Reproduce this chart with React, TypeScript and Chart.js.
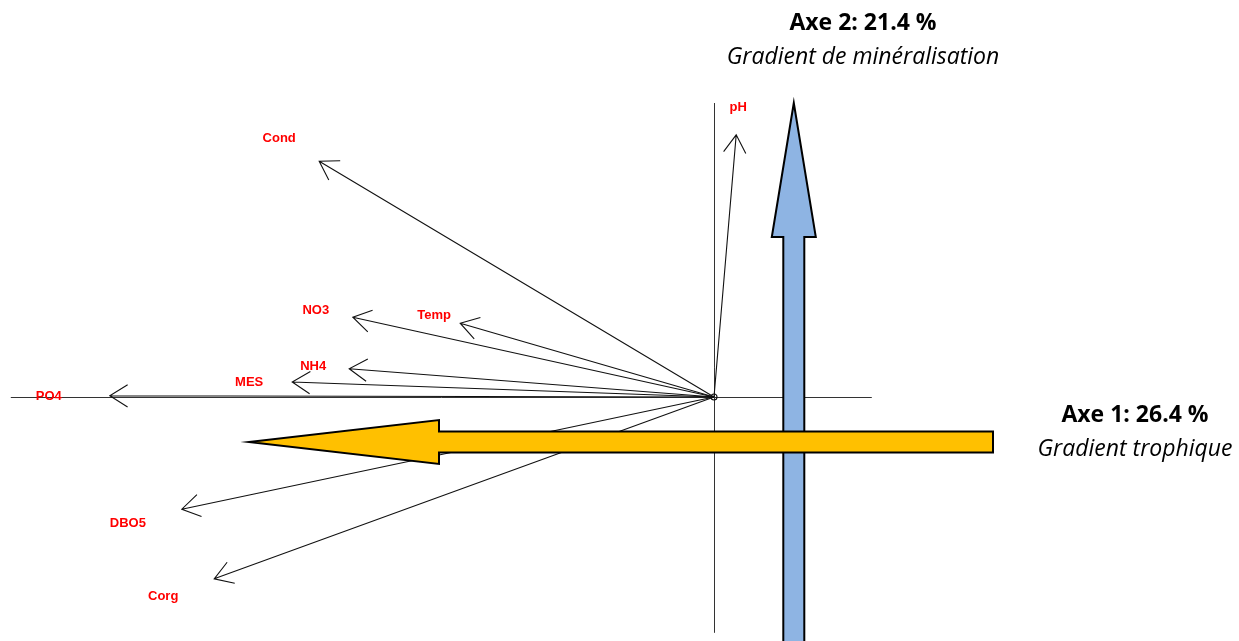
import React, { useEffect, useRef } from "react";
import { Chart, registerables } from "chart.js";

Chart.register(...registerables);

// PCA correlation coordinates (axis 1, axis 2)
const variables = ["pH", "Cond", "NO3", "Temp", "NH4", "MES", "PO4", "DBO5", "Corg"];
const axis1 = [0.037, -0.658, -0.602, -0.423, -0.608, -0.703, -1.007, -0.887, -0.833];
const axis2 = [0.437, 0.393, 0.133, 0.123, 0.047, 0.025, 0.002, -0.187, -0.303];

// axis line extents
const hAxis = [-1.172, 0.263];
const vAxis = [-0.393, 0.49];

// big interpretation arrows
const trophicArrow = { from: [0.465, -0.075], to: [-0.775, -0.075] };
const mineralArrow = { from: [0.133, -0.42], to: [0.133, 0.49] };

const axisTitles = [
  { bold: "Axe 2: 21.4 %", italic: "Gradient de minéralisation" },
  { bold: "Axe 1: 26.4 %", italic: "Gradient trophique" },
];

// label offsets in pixels from each arrow tip (style)
const labelOffsets: [number, number][] = [
  [2, -27], [-40, -23], [-37, -7], [-26, -8], [-36, -2], [-43, 0], [-61, 1], [-54, 14], [-51, 18],
];

const drawPlugin = {
  id: "pcaDraw",
  afterDatasetsDraw(chart: any) {
    const ctx: CanvasRenderingContext2D = chart.ctx;
    const xs = chart.scales.x;
    const ys = chart.scales.y;
    const px = (v: number) => xs.getPixelForValue(v);
    const py = (v: number) => ys.getPixelForValue(v);
    const ox = px(0);
    const oy = py(0);
    ctx.save();

    // axes
    ctx.strokeStyle = "#333";
    ctx.lineWidth = 1;
    ctx.beginPath();
    ctx.moveTo(px(hAxis[0]), oy + 0.5);
    ctx.lineTo(px(hAxis[1]), oy + 0.5);
    ctx.moveTo(ox + 0.5, py(vAxis[1]));
    ctx.lineTo(ox + 0.5, py(vAxis[0]));
    ctx.stroke();

    // vectors
    ctx.strokeStyle = "#111";
    ctx.lineWidth = 1.1;
    for (let i = 0; i < variables.length; i++) {
      const tx = px(axis1[i]);
      const ty = py(axis2[i]);
      ctx.beginPath();
      ctx.moveTo(ox, oy);
      ctx.lineTo(tx, ty);
      const ang = Math.atan2(ty - oy, tx - ox);
      const hl = 21;
      const ha = (32 * Math.PI) / 180;
      ctx.moveTo(tx - hl * Math.cos(ang - ha), ty - hl * Math.sin(ang - ha));
      ctx.lineTo(tx, ty);
      ctx.lineTo(tx - hl * Math.cos(ang + ha), ty - hl * Math.sin(ang + ha));
      ctx.stroke();
    }
    // origin circle
    ctx.beginPath();
    ctx.arc(ox, oy, 3, 0, Math.PI * 2);
    ctx.stroke();

    // labels
    ctx.fillStyle = "#ff0000";
    ctx.font = "bold 13px 'Liberation Sans', Arial, sans-serif";
    ctx.textAlign = "center";
    ctx.textBaseline = "middle";
    for (let i = 0; i < variables.length; i++) {
      const tx = px(axis1[i]);
      const ty = py(axis2[i]);
      ctx.fillText(variables[i], tx + labelOffsets[i][0], ty + labelOffsets[i][1]);
    }

    // big arrows
    const bigArrow = (x1: number, y1: number, x2: number, y2: number, fill: string) => {
      const len = Math.hypot(x2 - x1, y2 - y1);
      const ang = Math.atan2(y2 - y1, x2 - x1);
      const sw = 10.5;
      const hw = 22;
      const hlen = len > 600 ? 190 : 134;
      ctx.save();
      ctx.translate(x1, y1);
      ctx.rotate(ang);
      ctx.beginPath();
      ctx.moveTo(0, -sw);
      ctx.lineTo(len - hlen, -sw);
      ctx.lineTo(len - hlen, -hw);
      ctx.lineTo(len, 0);
      ctx.lineTo(len - hlen, hw);
      ctx.lineTo(len - hlen, sw);
      ctx.lineTo(0, sw);
      ctx.closePath();
      ctx.fillStyle = fill;
      ctx.fill();
      ctx.lineWidth = 2;
      ctx.strokeStyle = "#000";
      ctx.lineJoin = "miter";
      ctx.stroke();
      ctx.restore();
    };
    bigArrow(px(mineralArrow.from[0]), py(mineralArrow.from[1]), px(mineralArrow.to[0]), py(mineralArrow.to[1]), "#8EB4E3");
    bigArrow(px(trophicArrow.from[0]), py(trophicArrow.from[1]), px(trophicArrow.to[0]), py(trophicArrow.to[1]), "#FFC000");

    // axis titles
    ctx.fillStyle = "#000";
    ctx.textBaseline = "alphabetic";
    const vx = 863;
    ctx.font = "bold 23px 'Open Sans', Lato, sans-serif";
    ctx.fillText(axisTitles[0].bold, vx, 30);
    ctx.font = "italic 23px 'Open Sans', Lato, sans-serif";
    ctx.fillText(axisTitles[0].italic, vx, 64);
    const hx = 1135;
    ctx.font = "bold 23px 'Open Sans', Lato, sans-serif";
    ctx.fillText(axisTitles[1].bold, hx, 422);
    ctx.font = "italic 23px 'Open Sans', Lato, sans-serif";
    ctx.fillText(axisTitles[1].italic, hx, 456);

    ctx.restore();
  },
};

export default function App() {
  const ref = useRef<HTMLCanvasElement>(null);
  useEffect(() => {
    document.body.style.margin = "0";
    const unit = 600;
    const chart = new Chart(ref.current as HTMLCanvasElement, {
      type: "scatter",
      data: {
        datasets: [
          {
            data: variables.map((_, i) => ({ x: axis1[i], y: axis2[i] })),
            pointRadius: 0,
            pointHoverRadius: 0,
          },
        ],
      },
      options: {
        animation: false,
        responsive: false,
        layout: { padding: 0 },
        plugins: { legend: { display: false }, tooltip: { enabled: false } },
        events: [],
        scales: {
          x: { type: "linear", display: false, min: -714 / unit, max: (1239 - 714) / unit },
          y: { type: "linear", display: false, min: -(641 - 397) / unit, max: 397 / unit },
        },
      },
      plugins: [drawPlugin],
    });
    return () => chart.destroy();
  }, []);
  return (
    <div style={{ width: 1239, height: 641, background: "#fff" }}>
      <canvas ref={ref} width={1239} height={641} style={{ display: "block" }} />
    </div>
  );
}
